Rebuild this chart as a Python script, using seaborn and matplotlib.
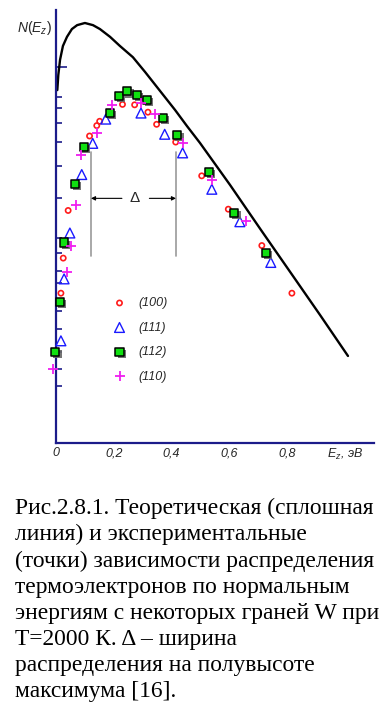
import numpy as np
import pandas as pd
import matplotlib
matplotlib.use('Agg')
import matplotlib.pyplot as plt
import matplotlib.patheffects as pe
import seaborn as sns

# Теоретическая кривая (энергия, эВ ; N(Ez), отн. ед.)
theory_e = [0.0045, 0.008, 0.014, 0.024, 0.038, 0.055, 0.073, 0.100, 0.128, 0.152,
            0.187, 0.221, 0.266, 0.308, 0.360, 0.412, 0.453, 0.498, 0.602, 0.709,
            0.810, 0.913, 1.010]
theory_n = [8.15, 8.50, 8.85, 9.17, 9.38, 9.56, 9.65, 9.70, 9.65, 9.56,
            9.38, 9.17, 8.91, 8.57, 8.13, 7.69, 7.32, 6.93, 5.96, 4.92,
            3.95, 2.96, 2.01]

# Экспериментальные точки для граней W
e_100 = [0.017, 0.025, 0.042, 0.116, 0.141, 0.151, 0.230, 0.272, 0.318, 0.348,
         0.414, 0.504, 0.596, 0.712, 0.816]
n_100 = [3.46, 4.27, 5.37, 7.09, 7.33, 7.43, 7.82, 7.81, 7.64, 7.36,
         6.95, 6.17, 5.40, 4.56, 3.46]

e_111 = [0.017, 0.028, 0.048, 0.089, 0.127, 0.172, 0.294, 0.376, 0.438, 0.539,
         0.636, 0.743]
n_111 = [2.36, 3.79, 4.85, 6.20, 6.92, 7.48, 7.62, 7.13, 6.70, 5.86,
         5.11, 4.17]

e_112 = [-0.002, 0.014, 0.028, 0.066, 0.098, 0.188, 0.218, 0.247, 0.280, 0.316,
         0.371, 0.420, 0.529, 0.617, 0.725]
n_112 = [2.10, 3.25, 4.63, 5.98, 6.83, 7.63, 8.01, 8.12, 8.04, 7.92,
         7.51, 7.11, 6.26, 5.31, 4.38]

e_110 = [-0.009, 0.037, 0.051, 0.070, 0.087, 0.143, 0.195, 0.293, 0.343, 0.438,
         0.539, 0.657]
n_110 = [1.70, 3.96, 4.54, 5.50, 6.65, 7.17, 7.80, 7.85, 7.59, 6.93,
         6.08, 5.13]

# Ширина на полувысоте
delta_left = 0.121
delta_right = 0.415
delta_level = 5.65

x_ticks = [0.0, 0.1, 0.2, 0.3, 0.4, 0.5, 0.6, 0.7, 0.8, 0.9, 1.0, 1.1]
x_labels = ['0', '', '0,2', '', '0,4', '', '0,6', '', '0,8', '', '$E_z$, эВ', '']
y_ticks = [8.69, 8.00, 7.73, 7.38, 6.94, 6.40, 5.65, 4.73, 4.38, 3.97, 3.70, 3.05,
           2.63, 2.11, 1.70, 1.32]

caption = ['Рис.2.8.1. Теоретическая (сплошная',
           'линия) и экспериментальные',
           '(точки) зависимости распределения',
           'термоэлектронов по нормальным',
           'энергиям с некоторых граней W при',
           'T=2000 К. Δ – ширина',
           'распределения на полувысоте',
           'максимума [16].']

sns.set_theme(style='white')
plt.rcParams['font.family'] = ['Liberation Sans', 'DejaVu Sans']
plt.rcParams['mathtext.fontset'] = 'custom'
plt.rcParams['mathtext.rm'] = 'Liberation Sans'
plt.rcParams['mathtext.it'] = 'Liberation Sans:italic'

navy = '#1c1c8a'
light = '#8080c0'

fig = plt.figure(figsize=(3.83, 7.12), dpi=100)
ax = fig.add_axes([56 / 383, 269 / 712, 318 / 383, 433 / 712])

sns.lineplot(x=theory_e, y=theory_n, sort=False, estimator=None, color='black',
             lw=1.7, ax=ax, clip_on=False)

sns.scatterplot(x=e_100, y=n_100, marker='o', s=14, facecolors='none',
                edgecolor='#ff1a1a', linewidth=1.2, label='(100)', ax=ax, clip_on=False, zorder=3)
sns.scatterplot(x=e_111, y=n_111, marker='^', s=50, facecolors='none',
                edgecolor='#1a1aff', linewidth=1.0, label='(111)', ax=ax, clip_on=False, zorder=3)
shadow = [pe.SimplePatchShadow(offset=(1.5, -1.5), shadow_rgbFace='0.4', alpha=0.9), pe.Normal()]
sns.scatterplot(x=e_112, y=n_112, marker='s', s=34, color='#10e010',
                edgecolor='black', linewidth=1.1, label='(112)', ax=ax, clip_on=False,
                zorder=3, path_effects=shadow)
sns.scatterplot(x=e_110, y=n_110, marker='+', s=55, color='#f01ef0',
                linewidth=1.3, label='(110)', ax=ax, clip_on=False, zorder=3)

# Δ
for xv in [delta_left, delta_right]:
    ax.plot([xv, xv], [4.33, 6.72], color='#999999', lw=1.2, zorder=1)
mid = (delta_left + delta_right) / 2
ax.annotate('', xy=(delta_left, delta_level), xytext=(mid - 0.04, delta_level),
            arrowprops=dict(arrowstyle='-|>', color='black', lw=0.8, mutation_scale=6,
                            shrinkA=0, shrinkB=0))
ax.annotate('', xy=(delta_right, delta_level), xytext=(mid + 0.055, delta_level),
            arrowprops=dict(arrowstyle='-|>', color='black', lw=0.8, mutation_scale=6,
                            shrinkA=0, shrinkB=0))
ax.text(mid + 0.005, delta_level, 'Δ', ha='center', va='center', fontsize=11)

ax.set_xlim(0, 1.1)
ax.set_ylim(0, 10)
ax.set_xlabel('')
ax.set_ylabel('')
for s in ['top', 'right']:
    ax.spines[s].set_visible(False)
for s in ['left', 'bottom']:
    ax.spines[s].set_color(navy)
    ax.spines[s].set_linewidth(1.6)

ax.set_xticks(x_ticks)
ax.set_xticklabels(x_labels, fontstyle='italic', fontsize=9)
ax.set_yticks(y_ticks)
ax.set_yticklabels([])
ax.tick_params(axis='x', direction='in', length=4.5, width=1.2, color=navy, pad=3)
ax.tick_params(axis='y', direction='in', length=4.5, width=1.2, color=navy, left=True)

for i, t in enumerate(ax.xaxis.get_major_ticks()):
    if x_ticks[i] in (0.3, 0.5, 0.9):
        t.tick1line.set_color(light)
for i, t in enumerate(ax.yaxis.get_major_ticks()):
    if i in (0, 1, 9, 12):
        t.tick1line.set_color(light)
    if i == 0:
        t.tick1line.set_markersize(8)

leg = ax.legend(loc='upper left', bbox_to_anchor=(107 / 383, 1 - 291 / 712),
                bbox_transform=fig.transFigure, frameon=False, borderpad=0,
                handlelength=1.0, handletextpad=1.0, labelspacing=1.0,
                prop={'family': 'Liberation Sans', 'style': 'italic', 'size': 9})
leg.legend_handles[2].set_path_effects(shadow)

fig.text(17 / 383, 1 - 28 / 712, '$N(E_z)$', fontsize=10, va='center', ha='left')

baselines = [514, 540, 566.5, 592.5, 619, 645, 671, 697]
for line, b in zip(caption, baselines):
    fig.text(15 / 383, 1 - b / 712, line, family='Liberation Serif', fontsize=16.9,
             va='baseline', ha='left', color='black')

fig.savefig('out.png', dpi=100)
